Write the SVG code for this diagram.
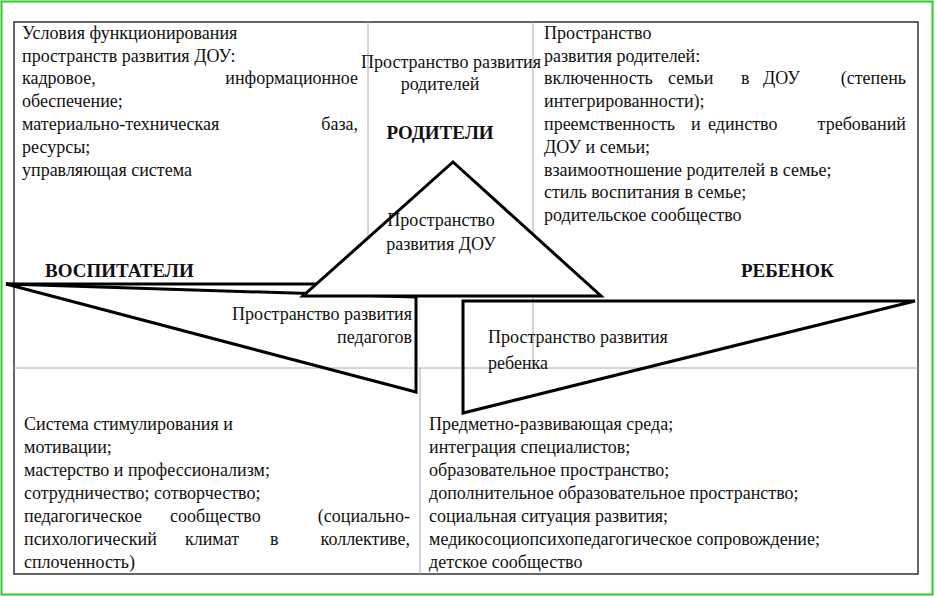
<svg xmlns="http://www.w3.org/2000/svg" width="935" height="597" viewBox="0 0 935 597" font-family="Liberation Serif, Times New Roman, DejaVu Serif, serif">
<style>
text{font-family:"Liberation Serif","Times New Roman","DejaVu Serif",serif;font-size:18px;fill:#111}
.b{font-weight:bold;font-size:19px}
.g{stroke:#aaa;stroke-width:1;fill:none}
.s{stroke:#000;stroke-width:3;fill:#fff;stroke-linejoin:miter}
.r{text-anchor:end}.m{text-anchor:middle}
</style>
<rect x="0" y="0" width="935" height="597" fill="#fff"/>
<rect x="1.5" y="1.5" width="931" height="593" fill="none" stroke="#2ecc2e" stroke-width="2"/>
<g id="grid">
<rect x="14" y="22" width="904" height="552" fill="none" stroke="#333" stroke-width="1.5"/>
<line class="g" x1="368" y1="22" x2="368" y2="240"/>
<line class="g" x1="533" y1="22" x2="533" y2="368"/>
<line class="g" x1="14" y1="368" x2="918" y2="368"/>
<line class="g" x1="420" y1="368" x2="420" y2="574"/>
</g>
<g id="connectors">
<polyline points="6,284 318,284" stroke="#000" stroke-width="3" fill="none"/>
</g>
<g id="tri-teachers"><polygon class="s" points="6,284 416,297 416,392" style="fill:none"/></g>
<g id="tri-dou"><polygon class="s" points="453,162 601,296 303,296"/></g>
<g id="tri-child"><polygon class="s" points="463,301 915,301 463,413" style="fill:none"/></g>
<g id="tl">
<text x="22" y="39">Условия функционирования</text>
<text x="22" y="62">пространств развития ДОУ:</text>
<text x="22" y="84">кадровое,</text><text class="r" x="358" y="84">информационное</text>
<text x="22" y="107">обеспечение;</text>
<text x="22" y="130">материально-техническая</text><text class="r" x="358" y="130">база,</text>
<text x="22" y="153">ресурсы;</text>
<text x="22" y="176">управляющая система</text>
</g>
<g id="parents">
<text class="m" x="451" y="68">Пространство развития</text>
<text class="m" x="440" y="90">родителей</text>
<text class="m b" x="440" y="139">РОДИТЕЛИ</text>
</g>
<g id="dou">
<text class="m" x="441" y="226">Пространство</text>
<text class="m" x="441" y="250">развития ДОУ</text>
</g>
<g id="tr">
<text x="544" y="39">Пространство</text>
<text x="544" y="62">развития родителей:</text>
<text x="544" y="84">включенность</text><text x="668" y="84">семьи</text><text x="741" y="84">в</text><text x="763" y="84">ДОУ</text><text class="r" x="906" y="84">(степень</text>
<text x="544" y="107">интегрированности);</text>
<text x="544" y="130">преемственность</text><text x="691" y="130">и</text><text x="708" y="130">единство</text><text class="r" x="906" y="130">требований</text>
<text x="544" y="153">ДОУ и семьи;</text>
<text x="544" y="176">взаимоотношение родителей в семье;</text>
<text x="544" y="198">стиль воспитания в семье;</text>
<text x="544" y="221">родительское сообщество</text>
</g>
<g id="teachers">
<text class="b" x="45" y="277">ВОСПИТАТЕЛИ</text>
<text class="r" x="412" y="320">Пространство развития</text>
<text class="r" x="412" y="343">педагогов</text>
</g>
<g id="child">
<text class="b" x="741" y="277">РЕБЕНОК</text>
<text x="488" y="343">Пространство развития</text>
<text x="488" y="369">ребенка</text>
</g>
<g id="bl">
<text x="24" y="430">Система стимулирования и</text>
<text x="24" y="453">мотивации;</text>
<text x="24" y="476">мастерство и профессионализм;</text>
<text x="24" y="499">сотрудничество; сотворчество;</text>
<text x="24" y="522">педагогическое</text><text x="170" y="522">сообщество</text><text class="r" x="410" y="522">(социально-</text>
<text x="24" y="545">психологический</text><text x="185" y="545">климат</text><text x="270" y="545">в</text><text class="r" x="410" y="545">коллективе,</text>
<text x="24" y="568">сплоченность)</text>
</g>
<g id="br">
<text x="429" y="430">Предметно-развивающая среда;</text>
<text x="429" y="453">интеграция специалистов;</text>
<text x="429" y="476">образовательное пространство;</text>
<text x="429" y="499">дополнительное образовательное пространство;</text>
<text x="429" y="522">социальная ситуация развития;</text>
<text x="429" y="545">медикосоциопсихопедагогическое сопровождение;</text>
<text x="429" y="568">детское сообщество</text>
</g>
</svg>
